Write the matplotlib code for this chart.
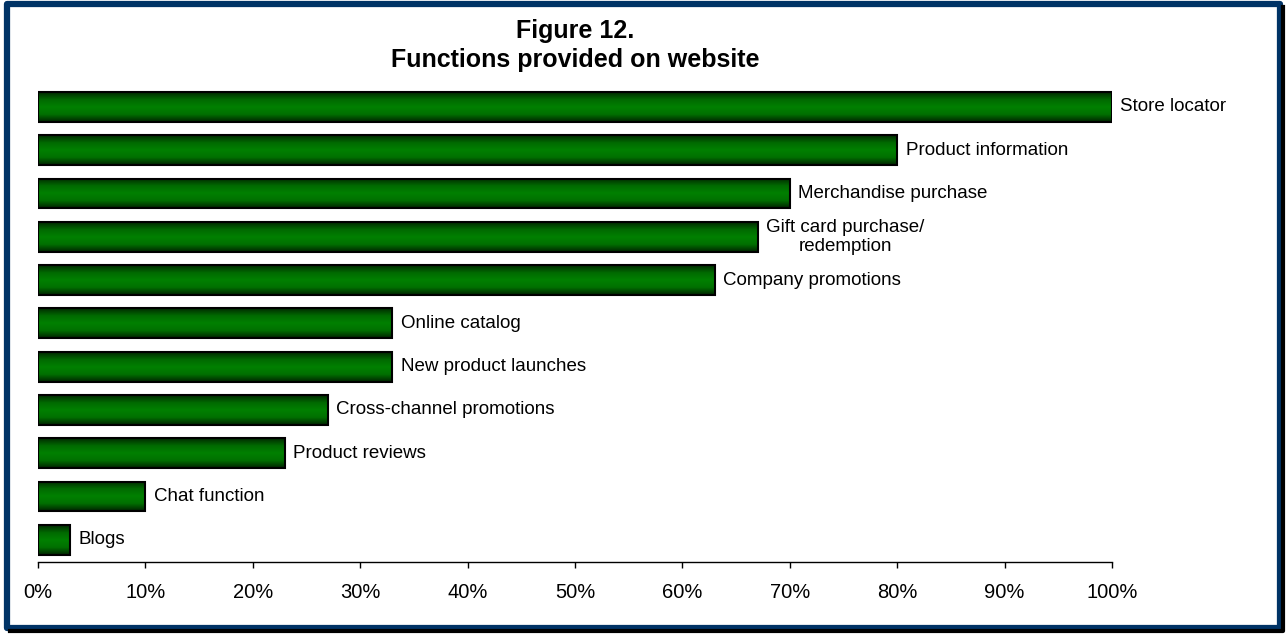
import numpy as np
import matplotlib.pyplot as plt
from matplotlib.colors import LinearSegmentedColormap
from matplotlib.patches import Rectangle
from matplotlib.lines import Line2D
from matplotlib.ticker import PercentFormatter

plt.rcParams['font.family'] = ['Liberation Sans', 'DejaVu Sans']

# website functions, listed top to bottom
functions = [
    "Store locator",
    "Product information",
    "Merchandise purchase",
    "Gift card purchase/\nredemption",
    "Company promotions",
    "Online catalog",
    "New product launches",
    "Cross-channel promotions",
    "Product reviews",
    "Chat function",
    "Blogs",
]
shares = [100, 80, 70, 67, 63, 33, 33, 27, 23, 10, 3]
xticks = list(range(0, 101, 10))

W, H = 1286, 635
fig = plt.figure(figsize=(W / 100, H / 100), dpi=100)

# navy frame with a thin dark drop shadow on the right and bottom
left, top, right, bottom = 7, 4, 1280, 628
fig.add_artist(Line2D([(left + 3) / W, (right + 3) / W, (right + 3) / W],
                      [1 - (bottom + 3) / H, 1 - (bottom + 3) / H, 1 - (top + 3) / H],
                      transform=fig.transFigure, color="black", lw=3.0,
                      solid_joinstyle="round"))
fig.add_artist(Rectangle((left / W, 1 - bottom / H), (right - left) / W, (bottom - top) / H,
                         transform=fig.transFigure, fill=False, edgecolor="#003366",
                         lw=4.5, joinstyle="round"))

ax = fig.add_axes([38 / W, 1 - 561.5 / H, 1074 / W, 476.2 / H])

n = len(functions)
ypos = np.arange(n)[::-1]
bar_h = 0.69

green = LinearSegmentedColormap.from_list(
    "bar_green", ["#012a01", "#006a00", "#008000", "#007000", "#012401"])
grad = np.linspace(0, 1, 64).reshape(-1, 1)

bars = ax.barh(ypos, shares, height=bar_h, facecolor="none",
               edgecolor="black", linewidth=1.5, zorder=3)
for bar, v, y in zip(bars, shares, ypos):
    im = ax.imshow(grad, cmap=green, aspect="auto", origin="upper",
                   extent=(0, v, y - bar_h / 2, y + bar_h / 2), zorder=2)
    im.set_clip_path(bar)

for name, v, y in zip(functions, shares, ypos):
    ax.annotate(name, (v, y), xytext=(6, 0), textcoords="offset points",
                ha="left", va="center", multialignment="center", fontsize=13.5)

ax.set_xlim(0, 100)
ax.set_ylim(-0.5, n - 0.5)
ax.set_xticks(xticks)
ax.xaxis.set_major_formatter(PercentFormatter(decimals=0))
ax.tick_params(axis="x", length=4.5, width=1, labelsize=14.5, pad=11)
ax.set_yticks([])
for side in ("left", "right", "top"):
    ax.spines[side].set_visible(False)
ax.spines["bottom"].set_linewidth(1)

fig.text(575 / W, 1 - 38 / H, "Figure 12.", ha="center", va="baseline",
         fontsize=18, fontweight="bold")
fig.text(575 / W, 1 - 67 / H, "Functions provided on website", ha="center",
         va="baseline", fontsize=18, fontweight="bold")

fig.savefig("out.png", dpi=100)
